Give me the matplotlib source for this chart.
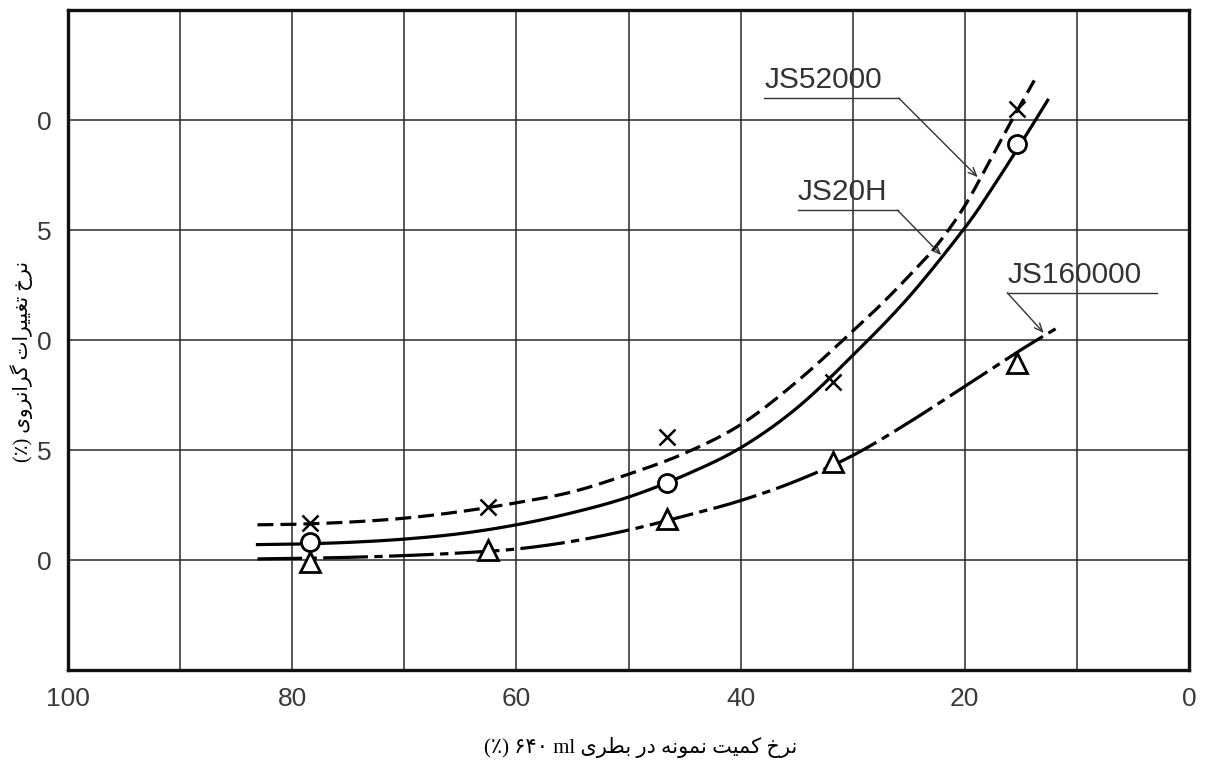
import matplotlib
matplotlib.use("Agg")
import matplotlib.pyplot as plt
import numpy as np

# ---------------- data ----------------
# measured points
js52000_x = [78.4, 62.5, 46.6, 31.8, 15.3]
js52000_y = [1.7, 2.4, 5.6, 8.1, 20.5]
js20h_x = [78.4, 46.6, 15.3]
js20h_y = [0.8, 3.5, 18.9]
js160000_x = [78.4, 62.5, 46.6, 31.8, 15.3]
js160000_y = [-0.1, 0.45, 1.85, 4.45, 8.95]

# fitted curves
curve52000_x = [83.1, 80, 75, 70, 65, 60, 55, 50, 45, 40, 35, 30, 27.5, 25, 22.5, 20, 17.5, 15.9, 13.8]
curve52000_y = [1.6, 1.62, 1.72, 1.9, 2.2, 2.6, 3.1, 3.9, 4.85, 6.15, 8.1, 10.4, 11.6, 12.9, 14.3, 16.1, 18.4, 19.9, 21.8]
curve20h_x = [83.1, 80, 75, 70, 65, 60, 55, 50, 45, 40, 35, 30, 25, 20, 17.5, 15.1, 12.6]
curve20h_y = [0.7, 0.72, 0.8, 0.95, 1.2, 1.6, 2.15, 2.86, 3.85, 5.1, 6.9, 9.3, 11.95, 15.1, 16.95, 18.85, 20.9]
curve160000_x = [83.1, 80, 75, 70, 65, 60, 55, 50, 45, 40, 35, 30, 25, 20, 15, 11.6]
curve160000_y = [0.05, 0.07, 0.12, 0.2, 0.32, 0.5, 0.85, 1.36, 2.0, 2.7, 3.6, 4.75, 6.25, 7.9, 9.55, 10.6]

series_names = ["JS52000", "JS20H", "JS160000"]

x_ticks = [100, 90, 80, 70, 60, 50, 40, 30, 20, 10, 0]
x_tick_labels = ["100", "", "80", "", "60", "", "40", "", "20", "", "0"]
y_ticks = [0, 5, 10, 15, 20]
y_tick_labels = ["0", "5", "0", "5", "0"]   # clipped labels as in the reference


# ---------------- smooth drawing of the read curves (render only) ----------------
def smooth(xs, ys, n=16):
    p = np.column_stack([xs, ys]).astype(float)
    p = np.vstack([2 * p[0] - p[1], p, 2 * p[-1] - p[-2]])
    out = []
    t = np.linspace(0, 1, n, endpoint=False)[:, None]
    for i in range(1, len(p) - 2):
        p0, p1, p2, p3 = p[i - 1], p[i], p[i + 1], p[i + 2]
        seg = 0.5 * ((2 * p1) + (-p0 + p2) * t + (2 * p0 - 5 * p1 + 4 * p2 - p3) * t ** 2
                     + (-p0 + 3 * p1 - 3 * p2 + p3) * t ** 3)
        out.append(seg)
    out.append(p[-2][None, :])
    out = np.vstack(out)
    return out[:, 0], out[:, 1]


# ---------------- minimal Persian shaping ----------------
FORMS = {
    "\u0627": ("\uFE8D", "\uFE8E", None, None),
    "\u0628": ("\uFE8F", "\uFE90", "\uFE91", "\uFE92"),
    "\u062A": ("\uFE95", "\uFE96", "\uFE97", "\uFE98"),
    "\u062E": ("\uFEA5", "\uFEA6", "\uFEA7", "\uFEA8"),
    "\u062F": ("\uFEA9", "\uFEAA", None, None),
    "\u0631": ("\uFEAD", "\uFEAE", None, None),
    "\u0632": ("\uFEAF", "\uFEB0", None, None),
    "\u0637": ("\uFEC1", "\uFEC2", "\uFEC3", "\uFEC4"),
    "\u063A": ("\uFECD", "\uFECE", "\uFECF", "\uFED0"),
    "\u0645": ("\uFEE1", "\uFEE2", "\uFEE3", "\uFEE4"),
    "\u0646": ("\uFEE5", "\uFEE6", "\uFEE7", "\uFEE8"),
    "\u0647": ("\uFEE9", "\uFEEA", "\uFEEB", "\uFEEC"),
    "\u0648": ("\uFEED", "\uFEEE", None, None),
    "\u06CC": ("\uFBFC", "\uFBFD", "\uFBFE", "\uFBFF"),
    "\u06A9": ("\uFB8E", "\uFB8F", "\uFB90", "\uFB91"),
    "\u06AF": ("\uFB92", "\uFB93", "\uFB94", "\uFB95"),
}


def shape(word):
    out = []
    n = len(word)
    for i, c in enumerate(word):
        if c not in FORMS:
            out.append(c)
            continue
        prev = word[i - 1] if i > 0 else None
        nxt = word[i + 1] if i + 1 < n else None
        jp = (prev in FORMS and FORMS[prev][2] is not None) if prev else False
        jn = ((nxt in FORMS) and FORMS[c][2] is not None) if nxt else False
        iso, fin, ini, med = FORMS[c]
        if jp and jn:
            g = med
        elif jp:
            g = fin
        elif jn:
            g = ini
        else:
            g = iso
        out.append(g)
    return "".join(reversed(out))


def rtl(words):
    return " ".join(shape(w) for w in reversed(words))


xlabel_text = "(\u066A) \u06F6\u06F4\u06F0 ml " + rtl(["نرخ", "کمیت", "نمونه", "در", "بطری"])
ylabel_text = "(\u066A) " + rtl(["نرخ", "تغییرات", "گرانروی"])

# ---------------- figure ----------------
fig = plt.figure(figsize=(12.09, 7.76), dpi=100)
ax = fig.add_axes([68 / 1209, 106 / 776, 1121 / 1209, 660 / 776])
ax.set_xlim(100, 0)
ax.set_ylim(-5, 25)

ax.set_xticks(x_ticks)
ax.set_xticklabels(x_tick_labels)
ax.set_yticks(y_ticks)
ax.set_yticklabels(y_tick_labels)
ax.tick_params(length=0, labelsize=19, labelcolor="#3a3a3a")
ax.tick_params(axis="x", pad=12)
ax.tick_params(axis="y", pad=12)
for lab in ax.get_xticklabels() + ax.get_yticklabels():
    lab.set_family("Liberation Sans")

ax.grid(True, color="#2a2a2a", lw=1.1)
ax.set_axisbelow(True)
for s in ax.spines.values():
    s.set_linewidth(2.4)
    s.set_color("#111111")

lw = 2.3
cx, cy = smooth(curve52000_x, curve52000_y)
ax.plot(cx, cy, color="black", lw=lw, dashes=(5, 2.2), zorder=3)
cx, cy = smooth(curve20h_x, curve20h_y)
ax.plot(cx, cy, color="black", lw=lw, ls="-", zorder=3)
cx, cy = smooth(curve160000_x, curve160000_y)
ax.plot(cx, cy, color="black", lw=lw, dashes=(14, 2.0, 2.6, 2.0), zorder=3)

ax.plot(js52000_x, js52000_y, ls="none", marker="x", ms=11, mew=1.8, color="black", zorder=4)
ax.plot(js20h_x, js20h_y, ls="none", marker="o", ms=13, mew=2.0, mfc="white", mec="black", zorder=4)
ax.plot(js160000_x, js160000_y, ls="none", marker="^", ms=15, mew=2.0, mfc="white", mec="black", zorder=4)

# leader labels
labels = [
    (series_names[0], 37.9, 25.9, 21.0, 18.84, 17.4, "right"),
    (series_names[1], 34.9, 26.0, 15.9, 22.1, 13.86, "right"),
    (series_names[2], 16.2, 2.86, 12.14, 12.95, 10.32, "left"),
]
for name, xl, xr, yu, xt, yt, side in labels:
    ax.plot([xl, xr], [yu, yu], color="#333333", lw=1.0, zorder=5)
    ax.text(xl, yu + 0.2, name, ha="left", va="bottom", fontsize=21.5,
            family="Liberation Sans", color="#333333", zorder=5)
    xs = xr if side == "right" else xl
    ax.annotate("", xy=(xt, yt), xytext=(xs, yu),
                arrowprops=dict(arrowstyle="->,head_length=0.6,head_width=0.25",
                                color="#333333", lw=1.0, shrinkA=0, shrinkB=0),
                zorder=5)

fig.text(641 / 1209, 1 - 748 / 776, xlabel_text, ha="center", va="center",
         fontsize=15, family=["Liberation Serif", "DejaVu Sans"])
fig.text(22 / 1209, 1 - 361 / 776, ylabel_text, ha="center", va="center",
         rotation=90, fontsize=14.5, family=["Liberation Serif", "DejaVu Sans"])

fig.savefig("out.png", dpi=100, facecolor="white")
